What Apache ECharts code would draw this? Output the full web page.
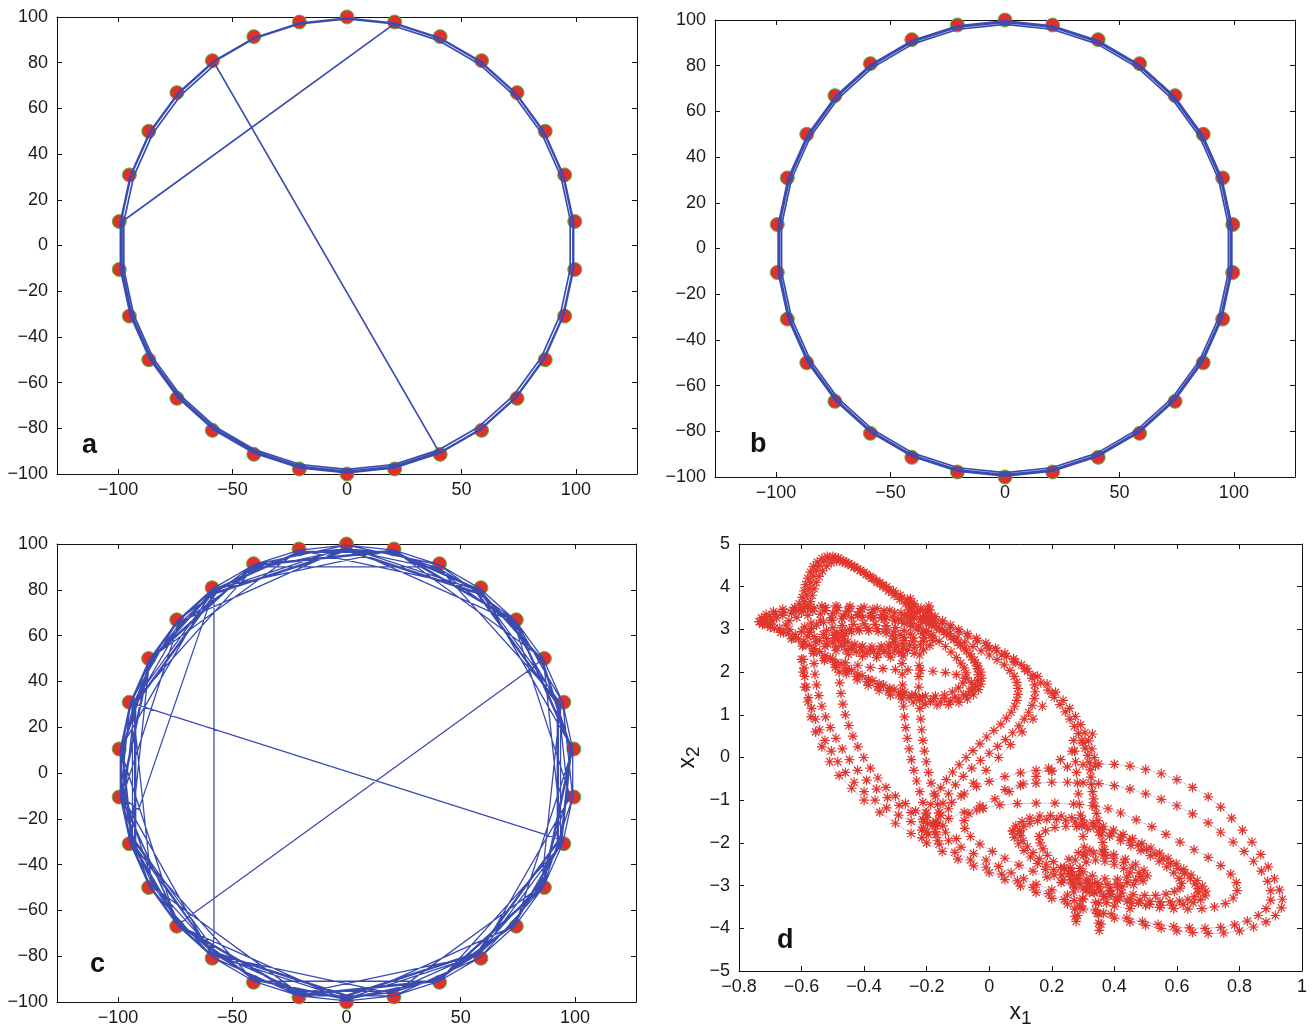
<!DOCTYPE html>
<html><head><meta charset="utf-8">
<script src="https://cdn.jsdelivr.net/npm/echarts@6/dist/echarts.min.js"></script>
<style>html,body{margin:0;padding:0;background:#fff}#c{width:1314px;height:1028px}</style>
</head><body><div id="c"></div>
<script>
// ---------- panels a, b, c: 30 nodes on the circle ----------
const nodeX = [0,20.8,40.7,58.8,74.3,86.6,95.1,99.5,99.5,95.1,86.6,74.3,58.8,40.7,20.8,0,-20.8,-40.7,-58.8,-74.3,-86.6,-95.1,-99.5,-99.5,-95.1,-86.6,-74.3,-58.8,-40.7,-20.8];
const nodeY = [100,97.8,91.4,80.9,66.9,50,30.9,10.5,-10.5,-30.9,-50,-66.9,-80.9,-91.4,-97.8,-100,-97.8,-91.4,-80.9,-66.9,-50,-30.9,-10.5,10.5,30.9,50,66.9,80.9,91.4,97.8];
// trajectory pieces: ['run', startNode, steps, stepSize, radiusFactor] or ['pt', x, y]
const aPieces = [['run',7,30,1,0.995],['run',7,20,1,0.98],['run',13,10,1,0.988],['run',1,30,1,0.992],['run',1,6,1,0.982]];
const bPieces = [['run',0,30,1,0.996],['run',0,30,1,0.981],['run',0,30,1,0.99]];
const cPieces = [['run',24,30,1,0.995],['pt',93.6,-29],['run',9,15,2,0.99],['run',9,10,3,0.985],['run',9,15,4,0.995],['run',9,10,3,0.97],['run',9,26,1,0.98],
  ['pt',80,45],['pt',-68,-62],['run',19,15,2,0.985],['run',19,10,3,0.995],['run',19,8,1,0.99],
  ['pt',-58,71],['pt',-58,-70],['run',18,15,2,0.995],['run',18,15,4,0.985],['run',18,10,3,0.975],['run',18,9,1,0.99],
  ['pt',-61,71],['pt',-91,-16],['run',22,10,3,0.99],['run',22,15,2,0.975]];
const circXTicks = [-100,-50,0,50,100];

// ---------- panel d: attractor trajectory pieces (x1, x2) ----------
const dRingA1 = [[-0.495,2.86],[-0.487,2.92],[-0.47,2.97],[-0.447,3.0],[-0.42,3.02],[-0.39,3.03],[-0.36,3.02],[-0.33,2.99],[-0.305,2.94],[-0.285,2.88],[-0.272,2.81],[-0.27,2.74],[-0.278,2.67],[-0.295,2.61],[-0.32,2.57],[-0.35,2.54],[-0.38,2.54],[-0.41,2.57],[-0.438,2.61],[-0.462,2.67],[-0.482,2.74],[-0.493,2.8],[-0.495,2.86]];
const dRingA2 = [[-0.47,2.84],[-0.46,2.9],[-0.44,2.94],[-0.415,2.97],[-0.385,2.97],[-0.355,2.95],[-0.33,2.91],[-0.31,2.85],[-0.3,2.78],[-0.305,2.71],[-0.32,2.65],[-0.345,2.61],[-0.375,2.59],[-0.405,2.61],[-0.43,2.65],[-0.452,2.71],[-0.466,2.78],[-0.47,2.84]];
const dRingA3 = [[-0.53,2.88],[-0.52,2.97],[-0.5,3.04],[-0.47,3.09],[-0.435,3.12],[-0.4,3.13],[-0.365,3.12],[-0.33,3.09],[-0.3,3.04],[-0.272,2.97],[-0.252,2.89],[-0.242,2.8],[-0.243,2.71],[-0.255,2.63],[-0.275,2.56],[-0.303,2.51],[-0.336,2.48],[-0.37,2.48],[-0.405,2.5],[-0.44,2.55],[-0.472,2.62],[-0.5,2.7],[-0.52,2.79],[-0.53,2.88]];
const dRingB1 = [[-0.575,2.93],[-0.568,3.02],[-0.552,3.1],[-0.53,3.16],[-0.503,3.21],[-0.472,3.25],[-0.44,3.27],[-0.405,3.28],[-0.37,3.27],[-0.335,3.24],[-0.302,3.2],[-0.272,3.14],[-0.247,3.07],[-0.228,2.99],[-0.214,2.9],[-0.208,2.81],[-0.21,2.72],[-0.22,2.64],[-0.238,2.57],[-0.262,2.51],[-0.29,2.47],[-0.322,2.44],[-0.355,2.43],[-0.39,2.44],[-0.425,2.47],[-0.458,2.52],[-0.49,2.59],[-0.518,2.66],[-0.542,2.74],[-0.56,2.83],[-0.575,2.93]];
const dRingB2 = [[-0.6,2.95],[-0.59,3.06],[-0.57,3.15],[-0.54,3.22],[-0.505,3.27],[-0.465,3.31],[-0.42,3.33],[-0.375,3.32],[-0.33,3.29],[-0.29,3.24],[-0.255,3.17],[-0.225,3.08],[-0.2,2.97],[-0.185,2.86],[-0.18,2.74],[-0.19,2.62],[-0.21,2.52],[-0.24,2.44],[-0.275,2.38],[-0.315,2.35],[-0.36,2.34],[-0.405,2.37],[-0.45,2.42],[-0.49,2.5],[-0.525,2.6],[-0.555,2.71],[-0.58,2.83],[-0.6,2.95]];
const dLoopC1 = [[-0.72,3.15],[-0.715,3.23],[-0.702,3.3],[-0.683,3.36],[-0.658,3.41],[-0.628,3.45],[-0.595,3.48],[-0.56,3.5],[-0.523,3.51],[-0.485,3.51],[-0.447,3.5],[-0.41,3.49],[-0.372,3.47],[-0.336,3.44],[-0.302,3.39],[-0.27,3.33],[-0.24,3.26],[-0.212,3.18],[-0.185,3.09],[-0.16,2.99],[-0.136,2.88],[-0.113,2.76],[-0.092,2.63],[-0.073,2.5],[-0.057,2.36],[-0.045,2.22],[-0.038,2.08],[-0.035,1.94],[-0.037,1.8],[-0.044,1.67],[-0.056,1.55],[-0.074,1.45],[-0.097,1.37],[-0.124,1.32],[-0.155,1.3],[-0.188,1.31],[-0.222,1.34],[-0.256,1.4],[-0.29,1.47],[-0.323,1.56],[-0.356,1.66],[-0.39,1.78],[-0.424,1.9],[-0.458,2.03],[-0.492,2.17],[-0.526,2.32],[-0.56,2.48],[-0.594,2.64],[-0.627,2.8],[-0.658,2.93],[-0.687,3.03],[-0.708,3.1],[-0.72,3.15]];
const dLoopC2 = [[-0.7,3.12],[-0.694,3.2],[-0.68,3.27],[-0.66,3.33],[-0.632,3.38],[-0.6,3.41],[-0.564,3.43],[-0.526,3.44],[-0.488,3.44],[-0.45,3.43],[-0.412,3.41],[-0.376,3.38],[-0.342,3.34],[-0.31,3.29],[-0.28,3.22],[-0.252,3.14],[-0.226,3.05],[-0.202,2.95],[-0.18,2.84],[-0.16,2.72],[-0.14,2.6],[-0.122,2.47],[-0.105,2.34],[-0.091,2.21],[-0.08,2.1],[-0.074,1.98],[-0.076,1.86],[-0.084,1.74],[-0.098,1.63],[-0.118,1.54],[-0.143,1.47],[-0.172,1.44],[-0.204,1.44],[-0.236,1.47],[-0.27,1.53],[-0.304,1.6],[-0.338,1.7],[-0.372,1.8],[-0.406,1.92],[-0.44,2.05],[-0.474,2.19],[-0.508,2.33],[-0.542,2.48],[-0.576,2.63],[-0.61,2.78],[-0.642,2.91],[-0.67,3.02],[-0.7,3.12]];
const dLoopC3 = [[-0.5,2.3],[-0.46,2.22],[-0.42,2.16],[-0.38,2.11],[-0.34,2.08],[-0.3,2.06],[-0.26,2.05],[-0.22,2.04],[-0.18,2.02],[-0.14,1.99],[-0.105,1.94],[-0.075,1.86],[-0.057,1.76],[-0.053,1.65],[-0.062,1.55],[-0.082,1.47],[-0.11,1.41],[-0.143,1.38],[-0.178,1.38],[-0.213,1.41],[-0.248,1.46],[-0.283,1.53],[-0.318,1.62],[-0.352,1.72],[-0.386,1.83],[-0.42,1.95],[-0.455,2.08],[-0.49,2.22],[-0.525,2.38],[-0.56,2.55],[-0.593,2.72],[-0.62,2.88],[-0.64,3.0],[-0.65,3.1],[-0.64,3.2],[-0.615,3.28],[-0.58,3.33],[-0.54,3.36],[-0.5,3.37],[-0.46,3.36],[-0.42,3.34],[-0.38,3.31],[-0.345,3.27]];
const dLoopC4 = [[-0.735,3.18],[-0.728,3.27],[-0.713,3.35],[-0.69,3.42],[-0.66,3.47],[-0.622,3.51],[-0.58,3.54],[-0.535,3.55],[-0.49,3.55],[-0.445,3.54],[-0.4,3.52],[-0.358,3.49],[-0.318,3.45],[-0.282,3.39],[-0.25,3.32],[-0.22,3.24],[-0.193,3.15],[-0.168,3.05],[-0.145,2.94],[-0.122,2.82],[-0.1,2.69],[-0.08,2.56],[-0.062,2.42],[-0.048,2.28],[-0.036,2.14],[-0.027,2.0],[-0.024,1.86],[-0.027,1.72],[-0.035,1.59],[-0.05,1.47],[-0.07,1.37],[-0.097,1.29],[-0.13,1.24],[-0.167,1.23],[-0.205,1.25],[-0.243,1.3],[-0.28,1.37],[-0.316,1.46],[-0.352,1.57],[-0.387,1.69],[-0.422,1.82],[-0.457,1.96],[-0.492,2.11],[-0.527,2.27],[-0.562,2.44],[-0.597,2.61],[-0.632,2.78],[-0.667,2.93],[-0.7,3.05],[-0.725,3.12],[-0.735,3.18]];
const dTip1 = [[-0.62,3.45],[-0.608,3.6],[-0.598,3.75],[-0.592,3.9],[-0.587,4.05],[-0.58,4.2],[-0.572,4.34],[-0.562,4.47],[-0.55,4.58],[-0.535,4.66],[-0.518,4.71],[-0.5,4.71],[-0.482,4.67],[-0.465,4.61],[-0.448,4.54],[-0.43,4.46],[-0.412,4.38],[-0.394,4.29],[-0.376,4.2],[-0.358,4.1],[-0.34,4.0],[-0.322,3.9],[-0.304,3.8],[-0.286,3.7],[-0.268,3.6],[-0.25,3.5],[-0.232,3.4],[-0.213,3.3],[-0.193,3.2],[-0.172,3.1],[-0.15,3.0],[-0.127,2.9],[-0.103,2.8],[-0.078,2.7],[-0.052,2.6],[-0.026,2.5],[0.0,2.4],[0.025,2.29],[0.048,2.17],[0.066,2.04],[0.08,1.9],[0.088,1.76],[0.092,1.62],[0.092,1.48],[0.088,1.34],[0.081,1.2],[0.07,1.06],[0.055,0.92],[0.037,0.78],[0.015,0.63],[-0.008,0.48],[-0.03,0.32],[-0.052,0.16],[-0.074,0.0],[-0.096,-0.17],[-0.117,-0.34],[-0.137,-0.52],[-0.155,-0.71],[-0.172,-0.9],[-0.187,-1.1],[-0.2,-1.3],[-0.21,-1.5],[-0.216,-1.7],[-0.215,-1.88]];
const dTip2 = [[-0.6,3.5],[-0.59,3.65],[-0.582,3.8],[-0.576,3.95],[-0.57,4.1],[-0.562,4.25],[-0.553,4.38],[-0.542,4.5],[-0.528,4.6],[-0.512,4.66],[-0.494,4.67],[-0.476,4.63],[-0.458,4.57],[-0.44,4.5],[-0.42,4.42],[-0.4,4.33],[-0.38,4.24],[-0.36,4.14],[-0.34,4.04],[-0.32,3.94],[-0.3,3.84],[-0.28,3.74],[-0.26,3.64],[-0.24,3.54],[-0.22,3.44],[-0.198,3.34],[-0.175,3.24],[-0.15,3.14],[-0.124,3.04],[-0.097,2.94],[-0.068,2.84],[-0.038,2.73],[-0.007,2.62],[0.024,2.5],[0.055,2.37],[0.085,2.23],[0.113,2.08],[0.14,1.92],[0.165,1.75],[0.188,1.58],[0.208,1.41],[0.226,1.24],[0.243,1.07],[0.258,0.9],[0.272,0.73],[0.285,0.56],[0.297,0.39],[0.307,0.22],[0.315,0.05],[0.32,-0.12],[0.323,-0.29],[0.325,-0.46],[0.327,-0.63],[0.33,-0.8],[0.334,-0.97],[0.338,-1.14],[0.343,-1.31],[0.348,-1.48],[0.353,-1.65],[0.358,-1.82],[0.363,-1.99],[0.368,-2.15],[0.372,-2.3]];
const dTip3 = [[-0.58,3.5],[-0.572,3.65],[-0.566,3.8],[-0.56,3.95],[-0.553,4.1],[-0.544,4.24],[-0.533,4.37],[-0.52,4.48],[-0.505,4.56],[-0.488,4.6],[-0.47,4.58],[-0.452,4.53],[-0.433,4.46],[-0.413,4.38],[-0.393,4.29],[-0.372,4.2],[-0.35,4.1],[-0.328,4.0],[-0.306,3.9],[-0.284,3.8],[-0.262,3.7],[-0.24,3.6],[-0.218,3.5],[-0.196,3.4],[-0.173,3.3],[-0.149,3.2],[-0.124,3.1],[-0.098,3.0],[-0.07,2.9],[-0.041,2.79],[-0.011,2.68],[0.02,2.56],[0.05,2.44],[0.078,2.31],[0.103,2.17],[0.123,2.02],[0.137,1.86],[0.145,1.7],[0.147,1.54],[0.144,1.38],[0.137,1.22],[0.126,1.06],[0.112,0.9],[0.095,0.74],[0.075,0.58],[0.052,0.42],[0.027,0.26],[0.0,0.1],[-0.028,-0.07],[-0.056,-0.25],[-0.083,-0.44],[-0.108,-0.64],[-0.13,-0.85],[-0.148,-1.07],[-0.162,-1.3],[-0.17,-1.52],[-0.172,-1.74],[-0.165,-1.95]];
const dCusp1 = [[-0.26,3.3],[-0.258,3.45],[-0.255,3.6],[-0.252,3.72],[-0.25,3.6],[-0.246,3.45],[-0.24,3.3]];
const dCusp2 = [[-0.205,3.2],[-0.2,3.33],[-0.196,3.46],[-0.193,3.55],[-0.19,3.45],[-0.185,3.3],[-0.178,3.15]];
const dRightBand = [[0.0,2.55],[0.04,2.4],[0.08,2.25],[0.12,2.08],[0.155,1.9],[0.185,1.72],[0.212,1.53],[0.236,1.34],[0.257,1.15],[0.276,0.96],[0.292,0.77],[0.306,0.58],[0.318,0.39],[0.328,0.2],[0.336,0.0],[0.34,-0.2]];
const dStrandL1 = [[-0.595,2.3],[-0.592,2.1],[-0.59,1.9],[-0.585,1.65],[-0.578,1.4],[-0.568,1.15],[-0.556,0.9],[-0.542,0.65],[-0.525,0.4],[-0.505,0.15],[-0.484,-0.1],[-0.46,-0.35],[-0.432,-0.58],[-0.4,-0.8],[-0.365,-1.0],[-0.328,-1.18],[-0.29,-1.35],[-0.25,-1.5],[-0.21,-1.65],[-0.17,-1.8],[-0.13,-1.95],[-0.09,-2.1],[-0.05,-2.25],[-0.01,-2.4],[0.03,-2.55],[0.07,-2.7],[0.11,-2.84],[0.15,-2.97],[0.2,-3.1],[0.25,-3.22],[0.3,-3.32],[0.35,-3.41],[0.4,-3.48],[0.45,-3.54]];
const dStrandL2 = [[-0.56,2.2],[-0.557,1.95],[-0.552,1.7],[-0.545,1.45],[-0.535,1.2],[-0.523,0.95],[-0.508,0.7],[-0.49,0.45],[-0.47,0.2],[-0.447,-0.05],[-0.421,-0.3],[-0.392,-0.53],[-0.36,-0.74],[-0.325,-0.94],[-0.288,-1.12],[-0.25,-1.29],[-0.212,-1.45],[-0.175,-1.6],[-0.14,-1.75],[-0.105,-1.9]];
const dStrandL3 = [[-0.48,2.0],[-0.478,1.75],[-0.474,1.5],[-0.468,1.25],[-0.46,1.0],[-0.449,0.75],[-0.436,0.5],[-0.42,0.25],[-0.401,0.0],[-0.38,-0.25],[-0.356,-0.48],[-0.33,-0.7],[-0.3,-0.9],[-0.268,-1.08],[-0.235,-1.25],[-0.2,-1.4],[-0.165,-1.55]];
const dStrandV1 = [[-0.28,2.45],[-0.279,2.2],[-0.278,1.95],[-0.277,1.7],[-0.276,1.45],[-0.274,1.2],[-0.271,0.95],[-0.267,0.7],[-0.262,0.45],[-0.256,0.2],[-0.249,-0.05],[-0.241,-0.3],[-0.232,-0.55],[-0.222,-0.8],[-0.212,-1.05],[-0.203,-1.3],[-0.197,-1.55],[-0.195,-1.8]];
const dStrandV2 = [[-0.222,2.4],[-0.224,2.15],[-0.225,1.9],[-0.225,1.65],[-0.224,1.4],[-0.222,1.15],[-0.219,0.9],[-0.216,0.65],[-0.212,0.4],[-0.207,0.15],[-0.201,-0.1],[-0.194,-0.35],[-0.186,-0.6],[-0.176,-0.85],[-0.165,-1.1],[-0.155,-1.35],[-0.148,-1.6]];
const dStrandV3 = [[0.27,0.4],[0.273,0.15],[0.276,-0.1],[0.279,-0.35],[0.282,-0.6],[0.285,-0.85],[0.288,-1.1],[0.292,-1.35],[0.296,-1.6],[0.3,-1.85],[0.304,-2.1],[0.307,-2.28]];
const dStrandM1 = [[0.33,0.55],[0.3,0.35],[0.265,0.15],[0.228,-0.05],[0.19,-0.25],[0.15,-0.44],[0.108,-0.62],[0.064,-0.8],[0.018,-0.97],[-0.03,-1.13],[-0.08,-1.28],[-0.13,-1.43],[-0.18,-1.58]];
const dStrandM2 = [[-0.16,-1.3],[-0.12,-1.05],[-0.08,-0.85],[-0.04,-0.68],[0.0,-0.56],[0.05,-0.45],[0.1,-0.36],[0.15,-0.3],[0.2,-0.32]];
const dStrandM3 = [[0.2,1.5],[0.17,1.2],[0.14,0.9],[0.105,0.6],[0.068,0.3],[0.03,0.0],[-0.01,-0.3],[-0.05,-0.6],[-0.09,-0.9],[-0.13,-1.2],[-0.17,-1.5],[-0.2,-1.75]];
const dRingR1 = [[0.259,-2.59],[0.275,-2.4],[0.302,-2.28],[0.334,-2.24],[0.366,-2.28],[0.398,-2.36],[0.43,-2.46],[0.457,-2.57],[0.479,-2.7],[0.484,-2.79],[0.468,-2.87],[0.441,-2.93],[0.409,-2.96],[0.377,-2.97],[0.345,-2.93],[0.312,-2.85],[0.286,-2.75],[0.264,-2.67],[0.259,-2.59]];
const dRingR1b = [[0.29,-2.6],[0.31,-2.45],[0.34,-2.4],[0.37,-2.43],[0.4,-2.5],[0.43,-2.6],[0.45,-2.7],[0.44,-2.8],[0.41,-2.85],[0.37,-2.84],[0.33,-2.77],[0.3,-2.68],[0.29,-2.6]];
const dRingR1c = [[0.24,-2.58],[0.255,-2.38],[0.285,-2.23],[0.322,-2.17],[0.36,-2.19],[0.398,-2.27],[0.435,-2.38],[0.468,-2.5],[0.495,-2.64],[0.505,-2.77],[0.492,-2.89],[0.462,-2.98],[0.425,-3.03],[0.387,-3.05],[0.35,-3.02],[0.313,-2.95],[0.28,-2.84],[0.255,-2.72],[0.24,-2.58]];
const dSpikeA = [[0.265,-2.75],[0.268,-2.95],[0.27,-3.15],[0.272,-3.35],[0.273,-3.55],[0.275,-3.72],[0.278,-3.84],[0.283,-3.7],[0.29,-3.5],[0.298,-3.3],[0.31,-3.1]];
const dSpikeB = [[0.33,-2.95],[0.335,-3.15],[0.34,-3.4],[0.345,-3.65],[0.35,-3.88],[0.352,-4.05],[0.357,-3.9],[0.365,-3.65],[0.375,-3.4],[0.39,-3.2],[0.41,-3.05]];
const dRingR2 = [[0.098,-1.72],[0.11,-1.62],[0.13,-1.54],[0.155,-1.48],[0.184,-1.45],[0.215,-1.45],[0.245,-1.47],[0.275,-1.51],[0.305,-1.56],[0.334,-1.62],[0.363,-1.69],[0.392,-1.77],[0.42,-1.86],[0.448,-1.95],[0.476,-2.05],[0.503,-2.15],[0.53,-2.26],[0.556,-2.37],[0.58,-2.48],[0.603,-2.6],[0.624,-2.72],[0.643,-2.84],[0.658,-2.96],[0.668,-3.07],[0.668,-3.17],[0.656,-3.26],[0.635,-3.32],[0.608,-3.36],[0.578,-3.38],[0.546,-3.38],[0.514,-3.37],[0.482,-3.34],[0.45,-3.31],[0.418,-3.26],[0.386,-3.2],[0.354,-3.13],[0.322,-3.05],[0.29,-2.96],[0.26,-2.86],[0.232,-2.75],[0.206,-2.63],[0.182,-2.5],[0.16,-2.37],[0.14,-2.23],[0.122,-2.09],[0.108,-1.95],[0.1,-1.83],[0.098,-1.72]];
const dRingR2b = [[0.075,-1.72],[0.085,-1.6],[0.105,-1.5],[0.13,-1.42],[0.162,-1.37],[0.196,-1.36],[0.23,-1.37],[0.264,-1.41],[0.298,-1.46],[0.332,-1.53],[0.365,-1.61],[0.397,-1.7],[0.428,-1.8],[0.458,-1.9],[0.488,-2.01],[0.517,-2.12],[0.545,-2.24],[0.572,-2.36],[0.598,-2.49],[0.622,-2.62],[0.645,-2.75],[0.665,-2.88],[0.682,-3.01],[0.692,-3.13],[0.69,-3.24],[0.676,-3.33],[0.652,-3.4],[0.62,-3.44],[0.585,-3.46],[0.549,-3.46],[0.513,-3.44],[0.477,-3.41],[0.441,-3.37],[0.405,-3.32],[0.37,-3.25],[0.335,-3.17],[0.3,-3.08],[0.267,-2.98],[0.236,-2.87],[0.207,-2.75],[0.18,-2.62],[0.155,-2.48],[0.132,-2.33],[0.111,-2.18],[0.094,-2.02],[0.08,-1.87],[0.075,-1.72]];
const dRingR2c = [[0.16,-1.85],[0.18,-1.72],[0.21,-1.64],[0.245,-1.61],[0.28,-1.62],[0.315,-1.67],[0.35,-1.75],[0.385,-1.84],[0.42,-1.95],[0.453,-2.06],[0.485,-2.18],[0.515,-2.3],[0.543,-2.43],[0.568,-2.56],[0.59,-2.7],[0.607,-2.83],[0.615,-2.95],[0.61,-3.06],[0.592,-3.14],[0.565,-3.2],[0.532,-3.23],[0.497,-3.23],[0.46,-3.21],[0.423,-3.17],[0.386,-3.11],[0.35,-3.03],[0.316,-2.94],[0.284,-2.83],[0.255,-2.71],[0.228,-2.58],[0.205,-2.44],[0.186,-2.29],[0.172,-2.14],[0.163,-2.0],[0.16,-1.85]];
const dRingR3 = [[-0.02,-1.19],[0.034,-1.11],[0.09,-1.08],[0.15,-1.07],[0.21,-1.07],[0.27,-1.09],[0.33,-1.13],[0.38,-1.2],[0.42,-1.3],[0.47,-1.46],[0.52,-1.62],[0.565,-1.8],[0.61,-1.98],[0.655,-2.16],[0.7,-2.34],[0.74,-2.53],[0.772,-2.73],[0.79,-2.93],[0.793,-3.12],[0.78,-3.29],[0.755,-3.42],[0.72,-3.5],[0.68,-3.54],[0.635,-3.55],[0.59,-3.54],[0.545,-3.51],[0.5,-3.46],[0.455,-3.41],[0.41,-3.34],[0.365,-3.26],[0.32,-3.16],[0.275,-3.05],[0.23,-2.93],[0.185,-2.8],[0.14,-2.66],[0.095,-2.52],[0.05,-2.36],[0.01,-2.2],[-0.03,-2.03],[-0.06,-1.85],[-0.078,-1.66],[-0.08,-1.48],[-0.065,-1.32],[-0.04,-1.23],[-0.02,-1.19]];
const dRingR4 = [[0.05,-0.75],[0.1,-0.65],[0.15,-0.6],[0.2,-0.58],[0.25,-0.58],[0.3,-0.59],[0.35,-0.61],[0.4,-0.66],[0.45,-0.74],[0.5,-0.85],[0.55,-0.98],[0.6,-1.13],[0.65,-1.32],[0.7,-1.53],[0.74,-1.75],[0.78,-1.98],[0.815,-2.2],[0.845,-2.43],[0.87,-2.66],[0.89,-2.9],[0.9,-3.12],[0.9,-3.34],[0.885,-3.54],[0.86,-3.7],[0.825,-3.83],[0.785,-3.92],[0.74,-3.98],[0.69,-4.0],[0.64,-3.99],[0.59,-3.96],[0.54,-3.91],[0.49,-3.84],[0.44,-3.76],[0.39,-3.67],[0.34,-3.57],[0.29,-3.46],[0.24,-3.33],[0.19,-3.19],[0.14,-3.04],[0.09,-2.89],[0.04,-2.73],[-0.01,-2.57],[-0.06,-2.4],[-0.11,-2.22],[-0.16,-2.03]];
const dRingR5 = [[0.2,-0.32],[0.25,-0.22],[0.3,-0.17],[0.35,-0.15],[0.4,-0.16],[0.45,-0.2],[0.5,-0.28],[0.55,-0.38],[0.6,-0.52],[0.65,-0.7],[0.7,-0.92],[0.74,-1.16],[0.775,-1.42],[0.81,-1.7],[0.84,-1.98],[0.868,-2.27],[0.892,-2.56],[0.912,-2.84],[0.928,-3.1],[0.937,-3.32],[0.934,-3.52],[0.915,-3.7],[0.885,-3.85],[0.845,-3.97],[0.8,-4.06],[0.75,-4.11],[0.7,-4.12],[0.65,-4.1],[0.6,-4.06],[0.55,-4.0],[0.5,-3.93],[0.45,-3.85],[0.4,-3.76],[0.35,-3.66],[0.3,-3.55],[0.25,-3.43],[0.2,-3.3],[0.15,-3.16],[0.1,-3.01],[0.05,-2.86],[0.0,-2.7],[-0.05,-2.54],[-0.1,-2.38],[-0.15,-2.2],[-0.2,-2.0],[-0.25,-1.78],[-0.3,-1.54],[-0.35,-1.28],[-0.4,-1.0],[-0.44,-0.72],[-0.48,-0.42],[-0.51,-0.1],[-0.535,0.25],[-0.555,0.6],[-0.57,0.95],[-0.58,1.3],[-0.59,1.65],[-0.595,2.0],[-0.6,2.3]];
const dCurves = [dRingA1,dRingA2,dRingA3,dRingB1,dRingB2,dLoopC1,dLoopC2,dLoopC3,dLoopC4,dTip1,dTip2,dTip3,dCusp1,dCusp2,dRightBand,dStrandL1,dStrandL2,dStrandL3,dStrandV1,dStrandV2,dStrandV3,dStrandM1,dStrandM2,dStrandM3,dRingR1,dRingR1b,dRingR1c,dSpikeA,dSpikeB,dRingR2,dRingR2b,dRingR2c,dRingR3,dRingR4,dRingR5];
const dXTicks = [-0.8,-0.6,-0.4,-0.2,0,0.2,0.4,0.6,0.8,1];

// ---------- build ----------
function buildPath(pieces){
  const out=[];
  pieces.forEach(p=>{
    if(p[0]==='run'){
      const start=p[1],steps=p[2],step=p[3],s=p[4];
      for(let k=0;k<=steps;k++){const i=((start+k*step)%30+30)%30; out.push([nodeX[i]*s,nodeY[i]*s]);}
    } else out.push([p[1],p[2]]);
  });
  return out;
}
const nodes = nodeX.map((x,i)=>[x,nodeY[i]]);
const FONT='Liberation Sans';
const fmt = v => { const r=Math.round(v*10)/10; return String(r).replace('-','\u2212'); };
const axisLineStyle={lineStyle:{color:'#111',width:1}};
const grids=[
  {left:57,top:17,width:580,height:457},
  {left:715,top:20,width:580,height:457},
  {left:57,top:544,width:579,height:458},
  {left:739,top:544,width:563,height:427}
].map(g=>Object.assign({outerBoundsMode:'none',containLabel:false},g));

const xAxes=[],yAxes=[];
function addAxes(gi,xr,yr){
  const lab={fontFamily:FONT,fontSize:18,color:'#1a1a1a',formatter:fmt};
  const xBase={type:'value',gridIndex:gi,min:xr.min,max:xr.max,splitLine:{show:false},axisLine:Object.assign({onZero:false},axisLineStyle)};
  const yBase={type:'value',gridIndex:gi,min:yr.min,max:yr.max,splitLine:{show:false},axisLine:Object.assign({onZero:false},axisLineStyle)};
  const xt = xr.ticks ? {customValues:xr.ticks} : {};
  const yt = yr.ticks ? {customValues:yr.ticks} : {};
  if(xr.interval) xBase.interval=xr.interval;
  if(yr.interval) yBase.interval=yr.interval;
  const tick = {inside:true,length:5,lineStyle:{color:'#111'}};
  xAxes.push(Object.assign({},xBase,{position:'bottom',axisTick:Object.assign({},tick,xt),axisLabel:Object.assign({},lab,{margin:7},xt)},xr.extra||{}));
  xAxes.push(Object.assign({},xBase,{position:'top',axisTick:Object.assign({},tick,xt),axisLabel:{show:false}}));
  yAxes.push(Object.assign({},yBase,{position:'left',axisTick:Object.assign({},tick,yt),axisLabel:Object.assign({},lab,{margin:9},yt)},yr.extra||{}));
  yAxes.push(Object.assign({},yBase,{position:'right',axisTick:Object.assign({},tick,yt),axisLabel:{show:false}}));
}
const R=126.7;
const nameRich={x:{fontFamily:FONT,fontSize:23,color:'#1a1a1a'},s:{fontFamily:FONT,fontSize:19,color:'#1a1a1a',padding:[12,0,0,0]}};
addAxes(0,{min:-R,max:R,ticks:circXTicks},{min:-100,max:100,interval:20});
addAxes(1,{min:-R,max:R,ticks:circXTicks},{min:-100,max:100,interval:20});
addAxes(2,{min:-R,max:R,ticks:circXTicks},{min:-100,max:100,interval:20});
addAxes(3,{min:-0.8,max:1,ticks:dXTicks,extra:{name:'{x|x}{s|1}',nameLocation:'middle',nameGap:26,nameTextStyle:{fontFamily:FONT,rich:nameRich}}},
              {min:-5,max:5,interval:1,extra:{name:'{x|x}{s|2}',nameLocation:'middle',nameGap:36,nameRotate:90,nameTextStyle:{fontFamily:FONT,rich:nameRich}}});

const series=[];
const LINE_BLUE='#3a4cb0';
[aPieces,bPieces,cPieces].forEach((pc,gi)=>{
  series.push({type:'scatter',xAxisIndex:gi*2,yAxisIndex:gi*2,data:nodes,symbol:'circle',symbolSize:14,z:2,silent:true,
    itemStyle:{color:'#e1302a',borderColor:'#55b84f',borderWidth:1,opacity:1}});
  series.push({type:'line',xAxisIndex:gi*2,yAxisIndex:gi*2,data:buildPath(pc),showSymbol:false,symbol:'none',z:3,silent:true,
    lineStyle:{color:LINE_BLUE,width:gi===2?1.3:1.7}});
});
const STAR='path://M0,-5L0,5M-5,0L5,0M-3.6,-3.6L3.6,3.6M-3.6,3.6L3.6,-3.6';
dCurves.forEach(c=>{
  series.push({type:'line',xAxisIndex:6,yAxisIndex:6,data:c,symbol:STAR,symbolSize:10,showSymbol:true,z:3,silent:true,
    lineStyle:{color:'#6f80d8',width:0.8,type:'dotted'},
    itemStyle:{color:'rgba(0,0,0,0)',borderColor:'#e2352c',borderWidth:1.2}});
});

const letterStyle={fontFamily:FONT,fontSize:27,fontWeight:'bold',fill:'#111'};
const graphic=[
  {type:'text',left:82,top:432,style:Object.assign({text:'a'},letterStyle)},
  {type:'text',left:750,top:431,style:Object.assign({text:'b'},letterStyle)},
  {type:'text',left:90,top:951,style:Object.assign({text:'c'},letterStyle)},
  {type:'text',left:777,top:927,style:Object.assign({text:'d'},letterStyle)}
];

const chart=echarts.init(document.getElementById('c'),null,{renderer:'canvas'});
chart.setOption({animation:false,backgroundColor:'#fff',grid:grids,xAxis:xAxes,yAxis:yAxes,series:series,graphic:graphic});
</script></body></html>
